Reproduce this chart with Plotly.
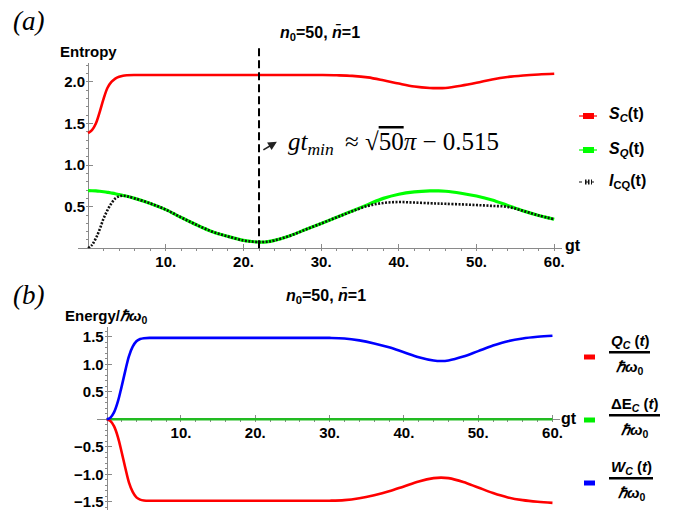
import plotly.graph_objects as go
import numpy as np

W, H = 678, 510

# ---------------- data ----------------
t_top = [0, 0.5, 1, 1.5, 2, 2.5, 3, 3.5, 4, 4.5, 5,
         6, 8, 10, 12, 14, 16, 18, 20,
         21, 22, 23, 24,
         26, 28, 30, 32, 34, 36, 38, 40, 42, 44,
         45, 46, 48, 50, 52, 54, 56, 58, 60]
S_C = [1.386, 1.42, 1.50, 1.64, 1.80, 1.93, 2.00, 2.04, 2.062, 2.075, 2.08,
       2.083, 2.084, 2.084, 2.084, 2.084, 2.084, 2.084, 2.084,
       2.084, 2.084, 2.084, 2.084,
       2.084, 2.084, 2.083, 2.08, 2.073, 2.055, 2.02, 1.98, 1.945, 1.927,
       1.925, 1.928, 1.955, 1.99, 2.03, 2.06, 2.078, 2.09, 2.098]
S_Q = [0.693, 0.692, 0.69, 0.686, 0.68, 0.673, 0.665, 0.656, 0.645, 0.635, 0.625,
       0.60, 0.54, 0.465, 0.37, 0.28, 0.20, 0.143, 0.095,
       0.082, 0.075, 0.078, 0.095,
       0.152, 0.225, 0.298, 0.372, 0.448, 0.525, 0.60, 0.65, 0.678, 0.69,
       0.69, 0.686, 0.662, 0.628, 0.58, 0.515, 0.45, 0.395, 0.35]
I_CQ = [0.0, 0.04, 0.12, 0.23, 0.36, 0.46, 0.54, 0.60, 0.625, 0.632, 0.625,
        0.60, 0.54, 0.465, 0.37, 0.28, 0.20, 0.143, 0.095,
        0.082, 0.075, 0.078, 0.095,
        0.152, 0.225, 0.298, 0.372, 0.445, 0.51, 0.545, 0.556, 0.55, 0.542,
        0.538, 0.535, 0.528, 0.52, 0.51, 0.498, 0.45, 0.395, 0.35]

t_bot = [0, 0.5, 1, 1.5, 2, 2.5, 3, 3.5, 4, 4.5, 5,
         6, 8, 10, 15, 20, 25, 30,
         32, 34, 36, 38, 40, 42, 44,
         45, 46, 48, 50, 52, 54, 56, 58, 60]
W_C = [0.0, 0.03, 0.13, 0.32, 0.59, 0.88, 1.15, 1.32, 1.42, 1.46, 1.475,
       1.48, 1.48, 1.48, 1.48, 1.48, 1.48, 1.48,
       1.47, 1.435, 1.38, 1.31, 1.22, 1.13, 1.07,
       1.06, 1.07, 1.14, 1.24, 1.34, 1.42, 1.47, 1.50, 1.52]
Q_C = [0.0, -0.03, -0.13, -0.32, -0.59, -0.88, -1.15, -1.32, -1.42, -1.46, -1.475,
       -1.48, -1.48, -1.48, -1.48, -1.48, -1.48, -1.48,
       -1.47, -1.435, -1.38, -1.31, -1.22, -1.13, -1.07,
       -1.06, -1.07, -1.14, -1.24, -1.34, -1.42, -1.47, -1.50, -1.52]
dE_C = [0.0] * len(t_bot)

gt_min_line = 22.0

x_tickvals = [10, 20, 30, 40, 50, 60]
x_ticktext = ["10.", "20.", "30.", "40.", "50.", "60."]
y1_tickvals = [0.5, 1.0, 1.5, 2.0]
y1_ticktext = ["0.5", "1.0", "1.5", "2.0"]
y2_tickvals = [-1.5, -1.0, -0.5, 0.5, 1.0, 1.5]
y2_ticktext = ["\u22121.5", "\u22121.0", "\u22120.5", "0.5", "1.0", "1.5"]

# ---------------- helpers ----------------
def px(x):
    return x / W

def py(y):
    return 1 - y / H

FONT = "Liberation Sans"
SERIF = "Liberation Serif"
AX = "#8a8a8a"

fig = go.Figure()

# top panel
fig.add_trace(go.Scatter(x=t_top, y=S_C, mode="lines", line=dict(color="#ff0000", width=2.6, shape="spline"),
                         name="S_C(t)", xaxis="x", yaxis="y", showlegend=False))
fig.add_trace(go.Scatter(x=t_top, y=S_Q, mode="lines", line=dict(color="#00ff00", width=3.2, shape="spline"),
                         name="S_Q(t)", xaxis="x", yaxis="y", showlegend=False))
fig.add_trace(go.Scatter(x=t_top, y=I_CQ, mode="lines",
                         line=dict(color="#111111", width=2.6, dash="2px,1.5px", shape="spline"),
                         name="I_CQ(t)", xaxis="x", yaxis="y", showlegend=False))

# bottom panel
fig.add_trace(go.Scatter(x=t_bot, y=dE_C, mode="lines", line=dict(color="#22bb22", width=2.4),
                         name="dE_C(t)", xaxis="x2", yaxis="y2", showlegend=False))
fig.add_trace(go.Scatter(x=t_bot, y=Q_C, mode="lines", line=dict(color="#ff0000", width=2.6, shape="spline"),
                         name="Q_C(t)", xaxis="x2", yaxis="y2", showlegend=False))
fig.add_trace(go.Scatter(x=t_bot, y=W_C, mode="lines", line=dict(color="#0000ff", width=2.6, shape="spline"),
                         name="W_C(t)", xaxis="x2", yaxis="y2", showlegend=False))

tickfont = dict(family=FONT, size=15, color="black", weight="bold")

common_ax = dict(showline=True, linecolor=AX, linewidth=1, ticks="inside", ticklen=4,
                 tickcolor=AX, tickwidth=1, showgrid=False, zeroline=False,
                 tickfont=tickfont, layer="below traces", fixedrange=True,
                 automargin=False, ticklabeloverflow="allow")

fig.update_layout(
    xaxis=dict(domain=[px(78), px(562)], range=[-1.3, 61], anchor="y",
               tickvals=x_tickvals, ticktext=x_ticktext,
               minor=dict(tickmode="array", tickvals=list(np.arange(2, 61, 2)), ticklen=2, tickcolor=AX),
               **common_ax),
    yaxis=dict(domain=[py(248.3), py(62.8)], range=[0, 2.23], anchor="free", position=px(88.1),
               tickvals=y1_tickvals, ticktext=y1_ticktext,
               minor=dict(tickmode="array", tickvals=list(np.round(np.arange(0.1, 2.21, 0.1), 2)),
                          ticklen=2, tickcolor=AX),
               **common_ax),
    xaxis2=dict(domain=[px(97.04), px(559.9)], range=[-1.3, 61], anchor="free", position=py(419.3),
                tickvals=x_tickvals, ticktext=x_ticktext,
                minor=dict(tickmode="array", tickvals=list(np.arange(2, 61, 2)), ticklen=2, tickcolor=AX),
                **common_ax),
    yaxis2=dict(domain=[0, py(326.9)], range=[-1.649, 1.68], anchor="free", position=px(106.7),
                tickvals=y2_tickvals, ticktext=y2_ticktext,
                minor=dict(tickmode="array", tickvals=list(np.round(np.arange(-1.6, 1.61, 0.1), 2)),
                           ticklen=2, tickcolor=AX),
                **common_ax),
)

fig.update_layout(width=W, height=H, margin=dict(l=0, r=0, t=0, b=0, pad=0, autoexpand=False),
                  paper_bgcolor="white", plot_bgcolor="white", showlegend=False)

anns = []
def ann(text, x, y, size=13, family=FONT, xanchor="center", yanchor="middle", **kw):
    anns.append(dict(text=text, x=px(x), y=py(y), xref="paper", yref="paper", showarrow=False,
                     xanchor=xanchor, yanchor=yanchor, font=dict(family=family, size=size, color="black"), **kw))

ann("<i>(a)</i>", 28, 21, size=27, family=SERIF)
ann("<i>(b)</i>", 28, 295, size=27, family=SERIF)
ann("<b><i>n</i><sub>0</sub>=50, <i>n\u0304</i>=1</b>", 320, 33, size=16)
ann("<b><i>n</i><sub>0</sub>=50, <i>n\u0304</i>=1</b>", 326, 296, size=16)
ann("<b>Entropy</b>", 88, 52, size=15)
ann("<b>Energy/<i>\u210f\u03c9</i><sub>0</sub></b>", 106, 316, size=15)
ann("<b>gt</b>", 563, 245, size=16, xanchor="left")
ann("<b>gt</b>", 559, 418, size=16, xanchor="left")
ann("<i>gt</i><sub><i>min</i></sub>\u2009 \u2248 \u221a<span style='text-decoration:overline'>50</span><i>\u03c0</i> \u2212 0.515",
    286, 143, size=25, family=SERIF, xanchor="left")

# arrow pointing up-right from the dashed line
anns.append(dict(x=24.3, y=1.28, xref="x", yref="y", text="", showarrow=True,
                 ax=-15, ay=9, axref="pixel", ayref="pixel", arrowhead=2, arrowsize=1.1,
                 arrowwidth=1.6, arrowcolor="#222"))

shapes = []

# top legend (manual)
top_leg = [("#ff0000", "solid", "<b><i>S</i><sub><i>C</i></sub>(t)</b>", 116),
           ("#00ff00", "solid", "<b><i>S</i><sub><i>Q</i></sub>(t)</b>", 150),
           ("#111111", "dot", "<b><i>I</i><sub>CQ</sub>(t)</b>", 182)]
for color, dash, label, ys in top_leg:
    shapes.append(dict(type="line", xref="paper", yref="paper", x0=px(579), x1=px(597),
                       y0=py(ys), y1=py(ys), line=dict(color=color, width=1.2, dash=dash)))
    if dash == "solid":
        shapes.append(dict(type="rect", xref="paper", yref="paper", x0=px(583), x1=px(594),
                           y0=py(ys + 3), y1=py(ys - 3), fillcolor=color, line=dict(width=0)))
    else:
        shapes.append(dict(type="line", xref="paper", yref="paper", x0=px(585), x1=px(592),
                           y0=py(ys), y1=py(ys), line=dict(color=color, width=5, dash="1.5px,1.5px")))
    ann(label, 607, ys - 1, size=16, xanchor="left")

# bottom legend (fractions)
leg_items = [("#ff0000", "<b><i>Q</i><sub><i>C</i></sub> (<i>t</i>)</b>", 357, 341, 352.3, 609, 650),
             ("#00ee00", "<b>\u0394E<sub><i>C</i></sub> (<i>t</i>)</b>", 420, 404, 415.3, 609, 660),
             ("#0000ff", "<b><i>W</i><sub><i>C</i></sub> (<i>t</i>)</b>", 483, 467, 478.3, 609, 653)]
for color, num, ys, yn, yb, xb0, xb1 in leg_items:
    shapes.append(dict(type="rect", xref="paper", yref="paper", x0=px(584), x1=px(595),
                       y0=py(ys + 2.5), y1=py(ys - 2.5), fillcolor=color, line=dict(width=0)))
    shapes.append(dict(type="line", xref="paper", yref="paper", x0=px(xb0), x1=px(xb1),
                       y0=py(yb), y1=py(yb), line=dict(color="black", width=2.4)))
    ann(num, (xb0 + xb1) / 2, yn, size=15)
    ann("<b><i>\u210f\u03c9</i><sub>0</sub></b>", (xb0 + xb1) / 2, yb + 15, size=15)

# dashed vertical line at gt_min
shapes.append(dict(type="line", xref="x", yref="paper", x0=gt_min_line, x1=gt_min_line,
                   y0=py(248.3), y1=py(48), line=dict(color="black", width=2, dash="8px,4px")))

fig.update_layout(annotations=anns, shapes=shapes)

fig.write_html("out.html", config={"displayModeBar": False, "staticPlot": False},
               post_script="document.body.style.margin='0px';document.body.style.padding='0px';"
                           "document.body.style.overflow='hidden';")
